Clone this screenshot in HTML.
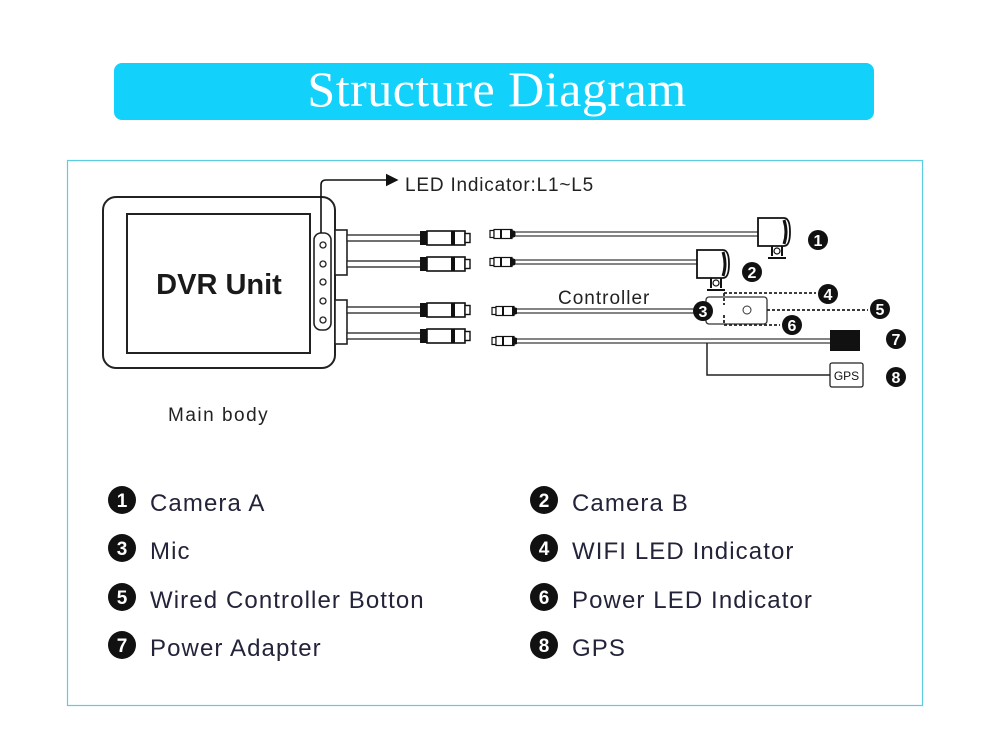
<!DOCTYPE html>
<html><head><meta charset="utf-8"><style>
html,body{margin:0;padding:0;background:#fff;}
svg{display:block;}
text{font-family:"Liberation Sans","DejaVu Sans",sans-serif;}
</style></head><body>
<svg width="1000" height="749" viewBox="0 0 1000 749" xmlns="http://www.w3.org/2000/svg">
<defs>
<marker id="ar" markerWidth="8" markerHeight="8" refX="7" refY="4" orient="auto"><path d="M0,0 L8,4 L0,8z" fill="#111"/></marker>
<g id="lc">
 <rect x="0" y="-7" width="7" height="14" fill="#111"/>
 <rect x="7" y="-7" width="38" height="14" fill="#fff" stroke="#111" stroke-width="1.6"/>
 <rect x="31" y="-7" width="4" height="14" fill="#111"/>
 <rect x="45" y="-4.5" width="5" height="9" fill="#fff" stroke="#111" stroke-width="1.4"/>
</g>
<g id="rc">
 <rect x="0" y="-3.5" width="4" height="7" fill="#fff" stroke="#111" stroke-width="1.2"/>
 <rect x="4" y="-4.5" width="18" height="9" fill="#fff" stroke="#111" stroke-width="1.2"/>
 <rect x="10" y="-4.5" width="2" height="9" fill="#111"/>
 <path d="M20,-4.5 L25,-3 L25,3 L20,4.5z" fill="#111"/>
</g>
<g id="cam">
 <path d="M0,0 h26 q6,0 6,14 q0,14 -6,14 h-26z" fill="#fff" stroke="#111" stroke-width="1.8"/>
 <path d="M26,2 q4,12 0,24" stroke="#111" stroke-width="3" fill="none"/>
 <path d="M14,28 L14,38 M24,28 L24,38 M10,40 L28,40" stroke="#111" stroke-width="2" fill="none"/>
 <circle cx="19" cy="33" r="3" fill="#fff" stroke="#111" stroke-width="1.2"/>
</g>
</defs>

<rect x="114" y="63" width="760" height="57" rx="8" fill="#12d1fa"/>
<text x="497" y="106" text-anchor="middle" fill="#fff" style="font-family:'Liberation Serif',serif;font-size:50px;letter-spacing:0.5px">Structure Diagram</text>

<rect x="67.5" y="160.5" width="855" height="545" fill="none" stroke="#5ccde0" stroke-width="1.2"/>

<rect x="103" y="197" width="232" height="171" rx="13" fill="#fff" stroke="#222" stroke-width="2"/>
<rect x="127" y="214" width="183" height="139" fill="#fff" stroke="#222" stroke-width="2"/>
<text x="219" y="294" text-anchor="middle" font-size="29" font-weight="bold" fill="#1a1a1a">DVR Unit</text>
<rect x="314" y="233" width="17" height="97" rx="7" fill="#fff" stroke="#222" stroke-width="1.6"/>
<g fill="#fff" stroke="#222" stroke-width="1.3">
<circle cx="323" cy="245" r="3"/><circle cx="323" cy="264" r="3"/><circle cx="323" cy="282" r="3"/><circle cx="323" cy="301" r="3"/><circle cx="323" cy="320" r="3"/>
</g>
<path d="M321,233 V185 q0,-5 5,-5 H397" stroke="#111" stroke-width="1.6" fill="none" marker-end="url(#ar)"/>
<text x="405" y="191" font-size="19" letter-spacing="0.8" fill="#222">LED Indicator:L1~L5</text>
<rect x="335" y="230" width="12" height="45" fill="#fff" stroke="#222" stroke-width="1.6"/>
<rect x="335" y="300" width="12" height="44" fill="#fff" stroke="#222" stroke-width="1.6"/>

<g stroke="#222" stroke-width="1.3" fill="#fff">
<rect x="347" y="235" width="74" height="6"/>
<rect x="347" y="261" width="74" height="6"/>
<rect x="347" y="307" width="74" height="6"/>
<rect x="347" y="333" width="74" height="6"/>
</g>
<use href="#lc" x="420" y="238"/>
<use href="#lc" x="420" y="264"/>
<use href="#lc" x="420" y="310"/>
<use href="#lc" x="420" y="336"/>

<g stroke="#333" stroke-width="1.2" fill="#fff">
<rect x="515" y="232" width="244" height="4"/>
<rect x="515" y="260" width="183" height="4"/>
<rect x="515" y="309" width="182" height="4"/>
<rect x="515" y="339" width="316" height="4"/>
</g>
<use href="#rc" x="490" y="234"/>
<use href="#rc" x="490" y="262"/>
<use href="#rc" x="492" y="311"/>
<use href="#rc" x="492" y="341"/>

<use href="#cam" x="758" y="218"/>
<use href="#cam" x="697" y="250"/>

<text x="558" y="304" font-size="19" letter-spacing="1" fill="#222">Controller</text>
<rect x="706" y="297" width="61" height="27" rx="3" fill="#fff" stroke="#333" stroke-width="1.3"/>
<circle cx="747" cy="310" r="4" fill="#fff" stroke="#333" stroke-width="1"/>
<g stroke="#222" stroke-width="1.8" stroke-dasharray="3,2" fill="none">
<path d="M724,293 V305 M724,293 H816"/>
<path d="M767,310 H868"/>
<path d="M724,315 V325 H780"/>
</g>
<rect x="830" y="330" width="30" height="21" fill="#111"/>
<path d="M707,343 V375 H830" stroke="#222" stroke-width="1.5" fill="none"/>
<rect x="830" y="363" width="33" height="24" rx="2" fill="#fff" stroke="#222" stroke-width="1.3"/>
<text x="846.5" y="380" text-anchor="middle" font-size="12" fill="#111">GPS</text>

<g font-size="16" font-weight="bold" fill="#fff" text-anchor="middle">
<circle cx="818" cy="240" r="10" fill="#111"/><text x="818" y="246">1</text>
<circle cx="752" cy="272" r="10" fill="#111"/><text x="752" y="278">2</text>
<circle cx="703" cy="311" r="10" fill="#111"/><text x="703" y="317">3</text>
<circle cx="828" cy="294" r="10" fill="#111"/><text x="828" y="300">4</text>
<circle cx="880" cy="309" r="10" fill="#111"/><text x="880" y="315">5</text>
<circle cx="792" cy="325" r="10" fill="#111"/><text x="792" y="331">6</text>
<circle cx="896" cy="339" r="10" fill="#111"/><text x="896" y="345">7</text>
<circle cx="896" cy="377" r="10" fill="#111"/><text x="896" y="383">8</text>
</g>

<text x="168" y="421" font-size="19" letter-spacing="1.5" fill="#222">Main body</text>

<g font-size="19" font-weight="bold" fill="#fff" text-anchor="middle">
<circle cx="122" cy="500" r="14" fill="#111"/><text x="122" y="507">1</text>
<circle cx="122" cy="548" r="14" fill="#111"/><text x="122" y="555">3</text>
<circle cx="122" cy="597" r="14" fill="#111"/><text x="122" y="604">5</text>
<circle cx="122" cy="645" r="14" fill="#111"/><text x="122" y="652">7</text>
<circle cx="544" cy="500" r="14" fill="#111"/><text x="544" y="507">2</text>
<circle cx="544" cy="548" r="14" fill="#111"/><text x="544" y="555">4</text>
<circle cx="544" cy="597" r="14" fill="#111"/><text x="544" y="604">6</text>
<circle cx="544" cy="645" r="14" fill="#111"/><text x="544" y="652">8</text>
</g>
<g font-size="24" letter-spacing="1.1" fill="#23233a">
<text x="150" y="511">Camera A</text>
<text x="150" y="559">Mic</text>
<text x="150" y="608">Wired Controller Botton</text>
<text x="150" y="656">Power Adapter</text>
<text x="572" y="511">Camera B</text>
<text x="572" y="559">WIFI LED Indicator</text>
<text x="572" y="608">Power LED Indicator</text>
<text x="572" y="656">GPS</text>
</g>
</svg>
</body></html>
